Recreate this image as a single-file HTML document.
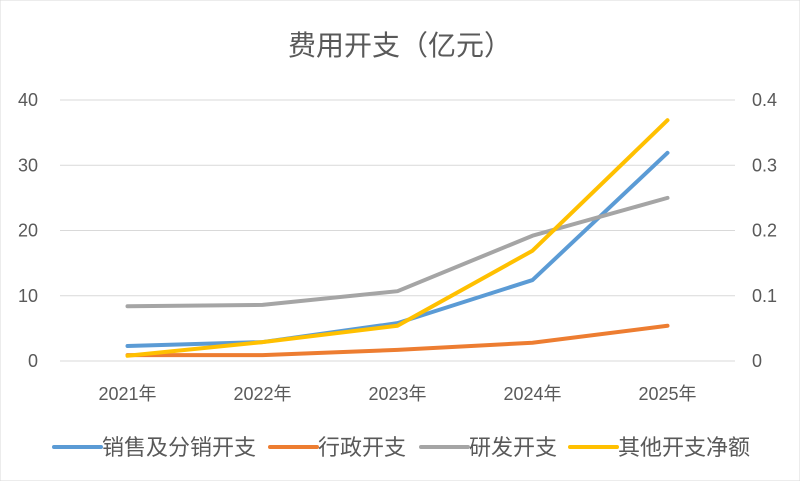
<!DOCTYPE html>
<html><head><meta charset="utf-8"><style>
body{margin:0;background:#fff;}
svg text{font-family:"Liberation Sans","Noto Sans CJK SC",sans-serif;fill:#595959;}
</style></head><body>
<svg id="c" width="800" height="481">
<rect width="800" height="481" fill="#fff" stroke="#d9d9d9"/>
<text x="400" y="55" text-anchor="middle" font-size="28">费用开支（亿元）</text>
<g id="grid"></g><g id="lines"></g><g id="legend"></g>
</svg>
<script>
const categories=["2021年","2022年","2023年","2024年","2025年"];
const leftTicks=[0,10,20,30,40];
const rightTicks=["0","0.1","0.2","0.3","0.4"];
const sales=[2.3,2.9,5.8,12.4,31.9];
const admin=[0.9,0.9,1.7,2.8,5.4];
const rnd=[8.4,8.6,10.7,19.2,25.0];
const other=[0.008,0.029,0.054,0.169,0.369];
const seriesNames=["销售及分销开支","行政开支","研发开支","其他开支净额"];
const NS="http://www.w3.org/2000/svg";
const x0=60,x1=735,yTop=100,yBot=361;
const xs=i=>x0+(x1-x0)/categories.length*(i+0.5);
const yl=v=>yBot-(v/40)*(yBot-yTop);
const yr=v=>yBot-(v/0.4)*(yBot-yTop);
function mk(t,a,p){const e=document.createElementNS(NS,t);for(const k in a)e.setAttribute(k,a[k]);p.appendChild(e);return e;}
const g=document.getElementById('grid');
leftTicks.forEach((v,i)=>{
 const l=mk('line',{x1:x0,x2:x1,y1:yl(v),y2:yl(v),stroke:'#d9d9d9','stroke-width':1},g);
 
 
 const t=mk('text',{x:38,y:yl(v)+6,'text-anchor':'end','font-size':18},g);t.textContent=v;
 
 
 const r=mk('text',{x:752,y:yl(v)+6,'text-anchor':'start','font-size':18},g);r.textContent=rightTicks[i];
 
 
});
categories.forEach((c,i)=>{
 const t=mk('text',{x:xs(i),y:400,'text-anchor':'middle','font-size':18},g);t.textContent=c;
 
 
});
const L=document.getElementById('lines');
const defs=[[sales,'#5b9bd5',yl],[admin,'#ed7d31',yl],[rnd,'#a5a5a5',yl],[other,'#ffc000',yr]];
defs.forEach(([d,col,f],k)=>{
 const pts=d.map((v,i)=>xs(i)+','+f(v)).join(' ');
 const p=mk('polyline',{points:pts,fill:'none',stroke:col,'stroke-width':4,'stroke-linejoin':'round','stroke-linecap':'round'},L);
 
 
});
const lg=document.getElementById('legend');
const lx=[54,270,421,570];
defs.forEach(([d,col],k)=>{
 const l=mk('line',{x1:lx[k],x2:lx[k]+47,y1:447,y2:447,stroke:col,'stroke-width':4,'stroke-linecap':'round'},lg);
 
 
 const t=mk('text',{x:lx[k]+48,y:455,'font-size':22},lg);t.textContent=seriesNames[k];
 
 
});
</script>
</body></html>
